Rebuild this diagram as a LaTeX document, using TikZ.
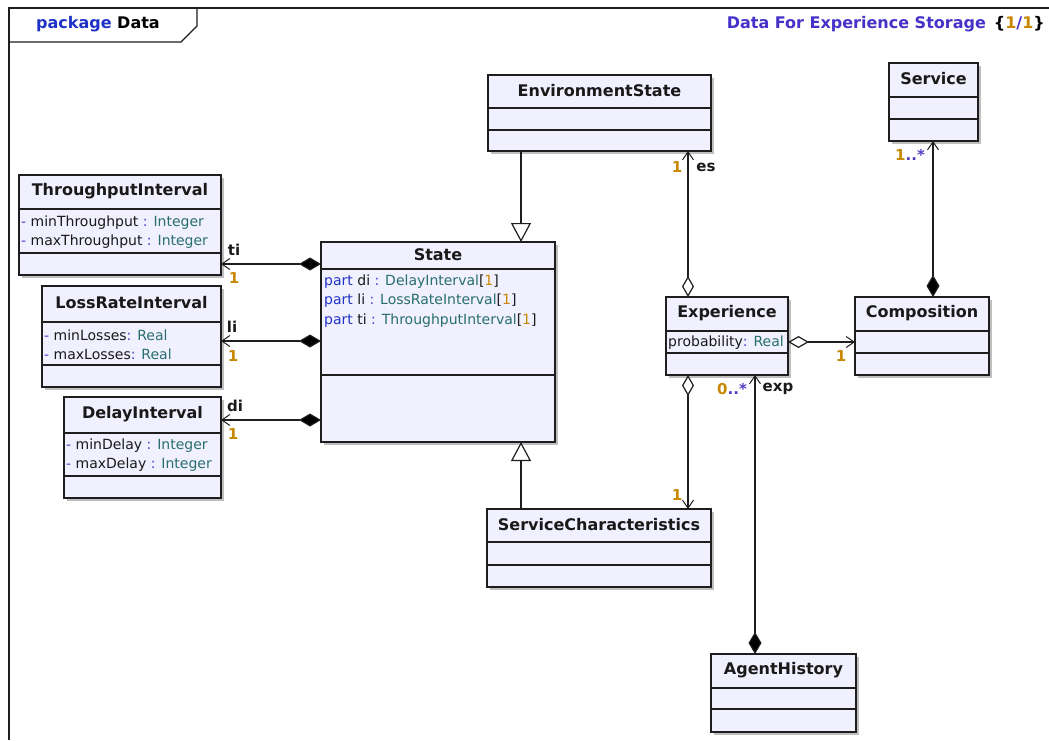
\documentclass[tikz,border=0pt]{standalone}
\usepackage{fontspec}
\setmainfont{DejaVu Sans}
\usetikzlibrary{arrows.meta,shadows,calc}

\definecolor{boxfill}{RGB}{240,240,255}
\definecolor{kwblue}{RGB}{30,50,200}
\definecolor{titleblue}{RGB}{70,50,200}
\definecolor{typeteal}{RGB}{40,110,110}
\definecolor{multorange}{RGB}{200,135,0}
\definecolor{punct}{RGB}{80,60,200}
\definecolor{edge}{RGB}{30,30,30}

\newcommand\vis{\textcolor{punct}{-}}
\newcommand\col{\textcolor{punct}{:}}
\newcommand\ty[1]{\textcolor{typeteal}{#1}}
\newcommand\kw[1]{\textcolor{kwblue}{#1}}
\newcommand\mo[1]{\textcolor{multorange}{#1}}

% class box: id, left, top, right, bottom, first divider, second divider, name
\newcommand\umlclass[8]{%
  \node[classbox, minimum width={(#4-#2)*1pt}, minimum height={(#5-#3)*1pt}]
    (#1) at ({(#2+#4)/2},{(#3+#5)/2}) {};
  \draw[divline] (#1.north west) ++(0,{#6-#3}) -- ++({#4-#2},0);
  \draw[divline] (#1.north west) ++(0,{#7-#3}) -- ++({#4-#2},0);
  \node[cname] (#1-name) at ($(#1.north)+(0,{(#6-#3)/2-1})$) {#8};
}

\tikzset{
  classbox/.style={draw=edge, line width=1.4pt, fill=boxfill, inner sep=0pt, outer sep=0pt,
    drop shadow={shadow xshift=3pt, shadow yshift=-3pt, fill=black!25, opacity=1}},
  divline/.style={draw=edge, line width=1.2pt},
  cname/.style={font=\fontsize{16}{19}\selectfont\bfseries, text=black!90, inner sep=0pt},
  attr/.style={font=\fontsize{14}{17}\selectfont, anchor=west, inner sep=0pt, text=black!90},
  role/.style={font=\fontsize{15}{18}\selectfont\bfseries, inner sep=0pt, text=black!90},
  mult/.style={font=\fontsize{15}{18}\selectfont\bfseries, inner sep=0pt, text=multorange},
  conn/.style={draw=edge, line width=1.2pt},
  gen/.style={conn, -{Triangle[open, fill=white, length=19pt, width=20pt, line width=1.2pt]}},
  shared/.style={conn, {Diamond[open, fill=white, length=21pt, width=12pt, line width=1.2pt]}-{Straight Barb[length=8pt, width=11pt, line width=1pt]}},
  owned/.style={conn, {Diamond[fill=black, length=22pt, width=13pt]}-{Straight Barb[length=8pt, width=11pt, line width=1pt]}},
}

\begin{document}
\begin{tikzpicture}[x=1pt, y=-1pt]
\useasboundingbox (0,0) rectangle (1049,740);
\fill[white] (0,0) rectangle (1049,740);

% diagram frame and package tab
\draw[edge, line width=1.4pt] (9,740) -- (9,8) -- (1049,8);
\draw[edge, line width=1.3pt] (9,42) -- (181,42) -- (197,26) -- (197,8);
\node[font=\fontsize{16}{19}\selectfont\bfseries, anchor=west, inner sep=0pt] (pkg) at (36,24)
  {\kw{package} Data};
\node[font=\fontsize{16}{19}\selectfont\bfseries, anchor=east, inner sep=0pt, text=titleblue] (ttl) at (1045,24)
  {Data For Experience Storage\enspace\textcolor{black}{\{}\mo{1}/\mo{1}\textcolor{black}{\}}};

% classes
\umlclass{env}{488}{75}{711}{151}{108}{130}{EnvironmentState}
\umlclass{svc}{889}{63}{978}{141}{97}{119}{Service}
\umlclass{thr}{19}{175}{221}{275}{209}{253}{ThroughputInterval}
\umlclass{los}{42}{286}{221}{387}{322}{365}{LossRateInterval}
\umlclass{del}{64}{397}{221}{498}{433}{476}{DelayInterval}
\umlclass{st}{321}{242}{555}{442}{269}{375}{State}
\umlclass{exp}{666}{297}{788}{375}{331}{353}{Experience}
\umlclass{cmp}{855}{297}{989}{375}{331}{353}{Composition}
\umlclass{sc}{487}{509}{711}{587}{542}{565}{ServiceCharacteristics}
\umlclass{ah}{711}{654}{856}{732}{688}{709}{AgentHistory}

% attributes
\node[attr] (thr-a1) at (21,223) {\vis{} minThroughput \col{} \ty{Integer}};
\node[attr] (thr-a2) at (21,242) {\vis{} maxThroughput \col{} \ty{Integer}};
\node[attr] (los-a1) at (44,335) {\vis{} minLosses\col{} \ty{Real}};
\node[attr] (los-a2) at (44,354) {\vis{} maxLosses\col{} \ty{Real}};
\node[attr] (del-a1) at (66,446) {\vis{} minDelay \col{} \ty{Integer}};
\node[attr] (del-a2) at (66,465) {\vis{} maxDelay \col{} \ty{Integer}};
\node[attr] (st-a1) at (324,282) {\kw{part} di \col{} \ty{DelayInterval}[\mo{1}]};
\node[attr] (st-a2) at (324,301) {\kw{part} li \col{} \ty{LossRateInterval}[\mo{1}]};
\node[attr] (st-a3) at (324,321) {\kw{part} ti \col{} \ty{ThroughputInterval}[\mo{1}]};
\node[attr] (exp-a1) at (668,343) {probability\col{} \ty{Real}};

% generalizations
\draw[gen] ([xshift=33pt]env.south west) -- ([xshift=33pt]env.south west |- st.north);
\draw[gen] ([xshift=34pt]sc.north west) -- ([xshift=34pt]sc.north west |- st.south);

% aggregations from Experience
\draw[shared] ([xshift=22pt]exp.north west) -- ([xshift=22pt]exp.north west |- env.south);
\draw[shared] ([xshift=22pt]exp.south west) -- ([xshift=22pt]exp.south west |- sc.north);
\draw[shared] ([yshift=-45pt]exp.north east) -- ([yshift=-45pt]exp.north east -| cmp.west);

% compositions
\draw[owned] ([xshift=44pt]ah.north west) -- ([xshift=44pt]ah.north west |- exp.south);
\draw[owned] ([xshift=78pt]cmp.north west) -- ([xshift=78pt]cmp.north west |- svc.south);
\draw[owned] ([yshift=-22pt]st.north west) -- ([yshift=-22pt]st.north west -| thr.east);
\draw[owned] ([yshift=-99pt]st.north west) -- ([yshift=-99pt]st.north west -| los.east);
\draw[owned] ([yshift=-178pt]st.north west) -- ([yshift=-178pt]st.north west -| del.east);

% association end labels
\node[role] (r-ti) at (234,250) {ti};
\node[mult] (m-ti) at (234,278) {1};
\node[role] (r-li) at (232,327) {li};
\node[mult] (m-li) at (233,356) {1};
\node[role] (r-di) at (235,406) {di};
\node[mult] (m-di) at (233,434) {1};
\node[mult] (m-es) at (677,167) {1};
\node[role] (r-es) at (706,167) {es};
\node[mult] (m-sc) at (677,495) {1};
\node[mult] (m-exp) at (732,389) {0\textcolor{punct}{..*}};
\node[role] (r-exp) at (778,389) {exp};
\node[mult] (m-cmp) at (841,356) {1};
\node[mult] (m-svc) at (910,155) {1\textcolor{punct}{..*}};
\end{tikzpicture}
\end{document}
